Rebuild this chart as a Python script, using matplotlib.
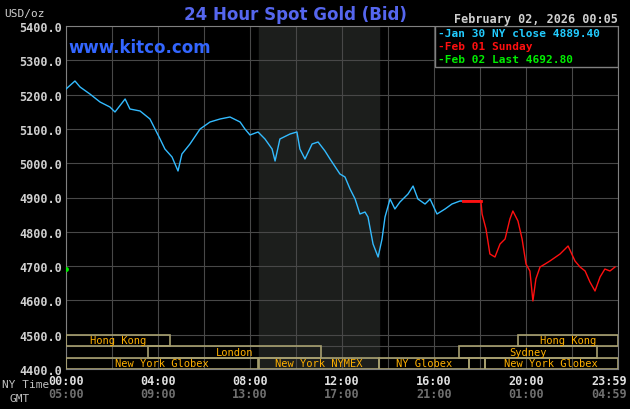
import matplotlib
matplotlib.use("Agg")
import matplotlib.pyplot as plt
from matplotlib.patches import Rectangle

px = [66,75,80,90,100,110,115,125,130,140,150,160,165,172,178,182,190,200,210,220,230,240,245,250,258,265,272,275,280,290,297,300,305,312,318,325,330,340,345,350,355,360,365,368,373,378,382,385,390,395,400,408,413,418,425,430,437,445,452,460,470,481]
blue_y = [90,82,88,95,103,108,113,100,110,112,120,140,150,158,172,155,145,130,123,120,118,123,130,136,133,140,150,162,140,135,133,150,160,145,143,152,160,175,178,190,200,215,213,218,245,258,240,218,200,210,203,195,187,200,205,200,215,210,205,202,202,202]
rx = [463,481,482,486,490,495,500,505,510,513,518,522,526,530,533,536,540,545,550,560,568,575,580,585,590,595,600,605,610,615]
red_y = [202,202,215,230,255,258,245,240,220,212,222,240,265,272,302,280,268,265,262,255,247,262,268,272,283,292,278,270,272,268]
to_h = lambda x: (x-66)/23.0
to_p = lambda y: 5400-(y-27)*1000/343.0
blue_hours = [round(to_h(v),2) for v in px]
blue_price = [round(to_p(v),1) for v in blue_y]
red_hours = [round(to_h(v),2) for v in rx]
red_price = [round(to_p(v),1) for v in red_y]
last_price = 4692.8

yticks = [4400,4500,4600,4700,4800,4900,5000,5100,5200,5300,5400]
xt_hours = [0,4,8,12,16,20,23.98]
ny_labels = ["00:00","04:00","08:00","12:00","16:00","20:00","23:59"]
gmt_labels = ["05:00","09:00","13:00","17:00","21:00","01:00","04:59"]
sessions = [("Hong Kong",0,4.5,2),("Hong Kong",19.65,24,2),("London",3.55,11.07,1),("Sydney",17.1,23.1,1),
            ("New York Globex",0,8.35,0),("New York NYMEX",8.4,13.6,0),("NY Globex",13.6,17.5,0),("",17.5,18.2,0),("New York Globex",18.2,24,0)]

mono = "DejaVu Sans Mono"
fig = plt.figure(figsize=(6.3,4.1), dpi=100, facecolor="black")
ax = fig.add_axes([66/630, 1-370/410, 552/630, 343/410])
ax.set_facecolor("black")
ax.set_xlim(0,24); ax.set_ylim(4400,5400)
ax.axvspan(8.4,13.6,color="#1c1e1c",zorder=0)
for h in range(0,25,2):
    ax.axvline(h,color="#484848",lw=0.8,zorder=1)
for p in yticks:
    ax.axhline(p,color="#484848",lw=0.8,zorder=1)
rowh = 100/3
for r in (1,2):
    ax.axhline(4400+r*rowh,color="#484848",lw=0.8,zorder=1)
for name,a,b,row in sessions:
    y0 = 4400+row*rowh
    ax.add_patch(Rectangle((a,y0),b-a,rowh,fill=False,ec="#a8a070",lw=1.2,zorder=3))
    if name:
        ax.text((a+b)/2,y0+rowh/2,name,color="#ffb000",fontsize=7.5,family=mono,ha="center",va="center",zorder=4)
ax.plot(blue_hours,blue_price,color="#33bbff",lw=1,zorder=5)
ax.plot(red_hours,red_price,color="#ff1010",lw=1,zorder=5)
ax.plot(red_hours[:2],red_price[:2],color="#ff1010",lw=2,zorder=6)
ax.plot([0.02],[last_price],marker="o",ms=2.5,color="#00ee00",zorder=6)
ax.set_yticks(yticks)
ax.set_yticklabels([f"{v:.1f}" for v in yticks],color="#d0d0d0",fontsize=8.5,family=mono,fontweight="bold")
ax.set_xticks([])
ax.tick_params(axis="y",length=0,pad=3)
for s in ax.spines.values(): s.set_color("#808080")
for i,(h,a,g) in enumerate(zip(xt_hours,ny_labels,gmt_labels)):
    last = i == len(xt_hours)-1
    xx = 24.4 if last else h
    ha = "right" if last else "center"
    ax.text(xx,4385,a,color="#e0e0e0",fontsize=8.5,family=mono,fontweight="bold",ha=ha,va="top",clip_on=False)
    ax.text(xx,4347,g,color="#707070",fontsize=8.5,family=mono,fontweight="bold",ha=ha,va="top",clip_on=False)
fig.text(2/630,1-385/410,"NY Time",color="#c0c0c0",fontsize=8,family=mono,va="center")
fig.text(10/630,1-399/410,"GMT",color="#c0c0c0",fontsize=8,family=mono,va="center")
fig.text(4/630,1-14/410,"USD/oz",color="#d0d0d0",fontsize=8,family=mono,va="center")
fig.text(295/630,1-15/410,"24 Hour Spot Gold (Bid)",color="#5566ee",fontsize=12,fontweight="bold",ha="center",va="center")
fig.text(618/630,1-19/410,"February 02, 2026 00:05",color="#d0d0d0",fontsize=8.5,family=mono,fontweight="bold",ha="right",va="center")
fig.text(68/630,1-48/410,"www.kitco.com",color="#3366ff",fontsize=12,fontweight="bold",va="center")
lx0 = (435-66)/552*24
ax.add_patch(Rectangle((lx0,5400-41*1000/343),24-lx0,41*1000/343,fc="black",ec="#808080",lw=1,zorder=7))
leg = [("-Jan 30 NY close 4889.40","#22ccff"),("-Feb 01 Sunday","#ff1010"),("-Feb 02 Last 4692.80","#00ee00")]
for i,(t,c) in enumerate(leg):
    ax.text(lx0+0.15,5400-(13*i+7.5)*1000/343,t,color=c,fontsize=8,family=mono,fontweight="bold",va="center",zorder=8)
fig.savefig("out.png",facecolor="black")
